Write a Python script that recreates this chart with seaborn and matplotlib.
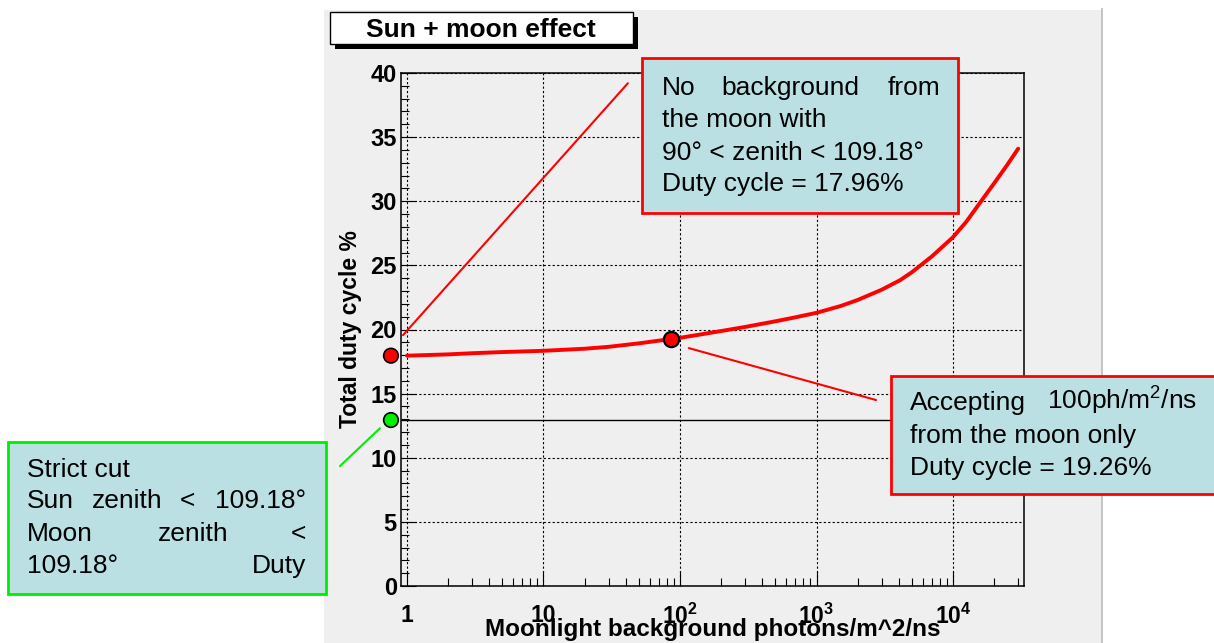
import numpy as np
import matplotlib
matplotlib.use("Agg")
import matplotlib.pyplot as plt
import seaborn as sns
from matplotlib.patches import Rectangle
from matplotlib.ticker import LogLocator, MultipleLocator, NullFormatter, FixedLocator

# curve: moonlight background vs total duty cycle
moon_bg = [1, 2, 3, 5, 10, 20, 30, 50, 86, 100, 200, 300, 500, 700, 1000, 1500,
           2000, 3000, 4100, 5000, 7000, 10000, 12500, 15800, 20000, 25000, 30000]
duty = [17.96, 18.06, 18.15, 18.24, 18.34, 18.5, 18.65, 18.92, 19.26, 19.35, 19.88, 20.2,
        20.64, 20.95, 21.3, 21.83, 22.3, 23.1, 23.85, 24.47, 25.7, 27.2, 28.4, 29.9,
        31.4, 32.85, 34.1]

# highlighted points
accept_x = [86]
accept_y = [19.26]
axis_dots_x = [0.763, 0.763]
axis_dots_y = [17.96, 12.94]
axis_dots_col = ["#ff0000", "#00ee00"]
strict_cut = 12.94

# pointer lines (data coords)
ptr_nomoon_x = [0.935, 41.5]
ptr_nomoon_y = [19.56, 39.2]
ptr_accept_x = [116, 2730]
ptr_accept_y = [18.55, 14.5]
ptr_strict_x = [0.323, 0.634]
ptr_strict_y = [9.35, 12.3]

xtick_vals = [1, 10, 100, 1000, 10000]
xtick_labels = ["1", "10", r"$\mathbf{10^{2}}$", r"$\mathbf{10^{3}}$", r"$\mathbf{10^{4}}$"]
ytick_vals = list(range(0, 41, 5))

sns.set_theme(style="ticks")
plt.rcParams["font.family"] = ["Liberation Sans", "DejaVu Sans"]
plt.rcParams["mathtext.fontset"] = "custom"
plt.rcParams["mathtext.rm"] = "Liberation Sans"
plt.rcParams["mathtext.it"] = "Liberation Sans:italic"
plt.rcParams["mathtext.bf"] = "Liberation Sans:bold"
for key in ["text.color", "axes.labelcolor", "xtick.color", "ytick.color"]:
    plt.rcParams[key] = "black"

W, H = 1214, 643
PANEL = "#efefef"
BOXFILL = "#bae0e3"

fig = plt.figure(figsize=(W / 100, H / 100), dpi=100)
fig.patch.set_facecolor("white")


def fx(x):
    return x / W


def fy(y):
    return 1 - y / H


def frect(x0, y0, x1, y1, **kw):
    r = Rectangle((fx(x0), fy(y1)), (x1 - x0) / W, (y1 - y0) / H,
                  transform=fig.transFigure, **kw)
    fig.patches.append(r)
    return r


# grey canvas
frect(324, 10, 1101, 643, facecolor=PANEL, edgecolor="none", zorder=-2)
frect(1101, 8, 1103, 643, facecolor="#c4c4c4", edgecolor="none", zorder=-2)

ax = fig.add_axes([fx(401), fy(586), (1024 - 401) / W, (586 - 73) / H])
ax.set_facecolor(PANEL)
ax.set_xscale("log")

sns.lineplot(x=moon_bg, y=duty, color="#ff0000", lw=2.8, ax=ax,
             estimator=None, sort=False, zorder=4)
ax.axhline(strict_cut, color="black", lw=1.0, zorder=3)

sns.scatterplot(x=accept_x, y=accept_y, color="#ff0000", edgecolor="black",
                linewidth=1.6, s=120, ax=ax, zorder=6)
sns.scatterplot(x=axis_dots_x, y=axis_dots_y, hue=axis_dots_col,
                palette={c: c for c in axis_dots_col}, edgecolor="black",
                linewidth=1.2, s=110, ax=ax, legend=False, clip_on=False, zorder=6)

ax.plot(ptr_nomoon_x, ptr_nomoon_y, color="#ff0000", lw=1.5, clip_on=False, zorder=5)
ax.plot(ptr_accept_x, ptr_accept_y, color="#ff0000", lw=1.5, clip_on=False, zorder=5)
ax.plot(ptr_strict_x, ptr_strict_y, color="#00ee00", lw=1.5, clip_on=False, zorder=5)

ax.set_xlim(0.904, 33100)
ax.set_ylim(0, 40)

ax.xaxis.set_major_locator(FixedLocator(xtick_vals))
ax.set_xticklabels(xtick_labels)
ax.xaxis.set_minor_locator(LogLocator(base=10, subs=np.arange(2, 10), numticks=20))
ax.xaxis.set_minor_formatter(NullFormatter())
ax.set_yticks(ytick_vals)
ax.yaxis.set_minor_locator(MultipleLocator(1))

ax.grid(True, which="major", color="black", linestyle=(0, (2, 2)), lw=0.8)
ax.tick_params(which="both", direction="in", colors="black", width=0.8,
               top=False, right=False)
ax.tick_params(which="major", length=11)
ax.tick_params(which="minor", length=6)
ax.tick_params(axis="x", which="major", pad=13, labelsize=16.5)
ax.tick_params(axis="y", which="major", pad=3, labelsize=17)
for lab in ax.get_xticklabels() + ax.get_yticklabels():
    lab.set_fontweight("bold")
for sp in ax.spines.values():
    sp.set_visible(True)
    sp.set_color("black")
    sp.set_linewidth(1.1)

ax.set_xlabel("Moonlight background photons/m^2/ns", fontsize=17.5, fontweight="bold")
ax.xaxis.set_label_coords(0.5, -0.063)
ax.set_ylabel("Total duty cycle %", fontsize=16.5, fontweight="bold")
ax.yaxis.set_label_coords(-0.062, 0.5)

# title box with shadow
frect(335, 17, 638, 49, facecolor="black", edgecolor="none", zorder=2)
frect(330, 12, 633, 44, facecolor="white", edgecolor="black", lw=1, zorder=3)
fig.text(fx(481), fy(37), "Sun + moon effect", ha="center", va="baseline",
         fontsize=19, fontweight="bold", zorder=4)

# annotation boxes
TXT = 19
frect(642, 58, 958, 213, facecolor=BOXFILL, edgecolor="#ff0000", lw=2, zorder=7)
fig.text(fx(662), fy(95), "No", ha="left", va="baseline", fontsize=TXT, zorder=8)
fig.text(fx(790), fy(95), "background", ha="center", va="baseline", fontsize=TXT, zorder=8)
fig.text(fx(940), fy(95), "from", ha="right", va="baseline", fontsize=TXT, zorder=8)
fig.text(fx(662), fy(127), "the moon with", ha="left", va="baseline", fontsize=TXT, zorder=8)
fig.text(fx(662), fy(160), "90° < zenith < 109.18°", ha="left", va="baseline", fontsize=TXT, zorder=8)
fig.text(fx(662), fy(191), "Duty cycle = 17.96%", ha="left", va="baseline", fontsize=TXT, zorder=8)

frect(891, 376, 1216, 494, facecolor=BOXFILL, edgecolor="#ff0000", lw=2, zorder=7)
fig.text(fx(910), fy(410), "Accepting", ha="left", va="baseline", fontsize=TXT, zorder=8)
fig.text(fx(1047), fy(410), r"100ph/m$^{2}$/ns", ha="left", va="baseline", fontsize=TXT, zorder=8)
fig.text(fx(910), fy(443), "from the moon only", ha="left", va="baseline", fontsize=TXT, zorder=8)
fig.text(fx(910), fy(475), "Duty cycle = 19.26%", ha="left", va="baseline", fontsize=TXT, zorder=8)

frect(8, 442, 326, 594, facecolor=BOXFILL, edgecolor="#00ee00", lw=2, zorder=7)
fig.text(fx(27), fy(477), "Strict cut", ha="left", va="baseline", fontsize=TXT, zorder=8)
fig.text(fx(27), fy(508), "Sun", ha="left", va="baseline", fontsize=TXT, zorder=8)
fig.text(fx(127), fy(508), "zenith", ha="center", va="baseline", fontsize=TXT, zorder=8)
fig.text(fx(187), fy(508), "<", ha="center", va="baseline", fontsize=TXT, zorder=8)
fig.text(fx(306), fy(508), "109.18°", ha="right", va="baseline", fontsize=TXT, zorder=8)
fig.text(fx(27), fy(541), "Moon", ha="left", va="baseline", fontsize=TXT, zorder=8)
fig.text(fx(193), fy(541), "zenith", ha="center", va="baseline", fontsize=TXT, zorder=8)
fig.text(fx(306), fy(541), "<", ha="right", va="baseline", fontsize=TXT, zorder=8)
fig.text(fx(27), fy(573), "109.18°", ha="left", va="baseline", fontsize=TXT, zorder=8)
fig.text(fx(306), fy(573), "Duty", ha="right", va="baseline", fontsize=TXT, zorder=8)

fig.savefig("out.png", dpi=100)
